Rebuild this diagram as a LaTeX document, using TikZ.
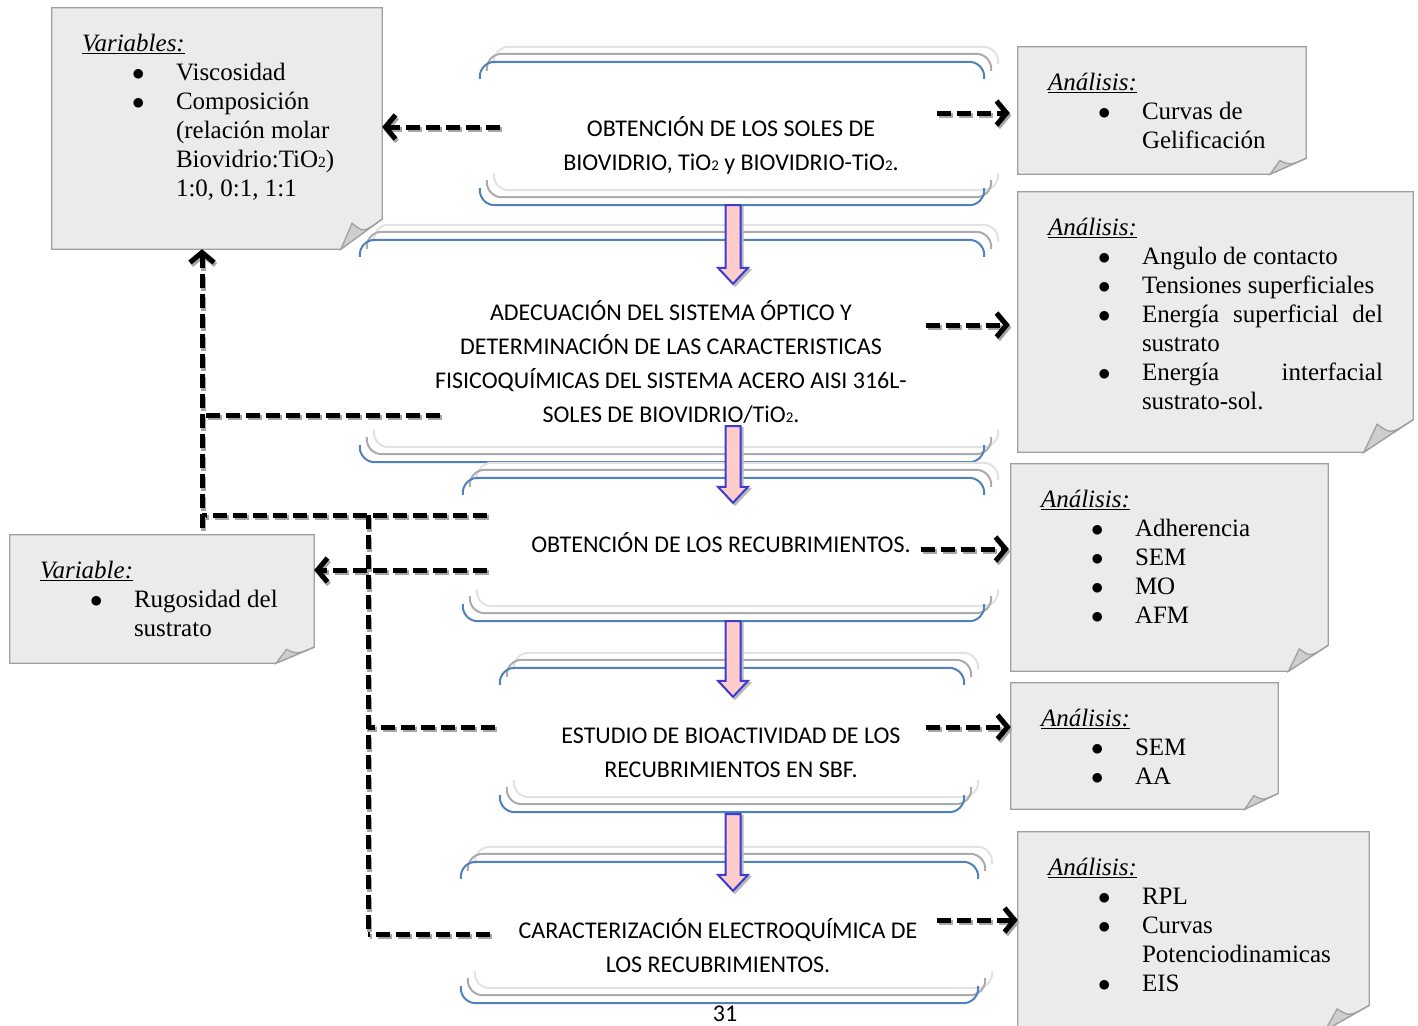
\documentclass[tikz,border=0pt]{standalone}
\usepackage{fontspec}
\setmainfont{Liberation Serif}
\newfontfamily\carlito{Carlito}
\usetikzlibrary{arrows.meta,calc,backgrounds}
\definecolor{azulpaso}{HTML}{4F81BD}
\definecolor{grismedio}{HTML}{ABABAB}
\definecolor{grisclaro}{HTML}{E2E2E2}
\definecolor{fondonota}{HTML}{EBEBEB}
\definecolor{bordenota}{HTML}{A0A0A0}
\definecolor{pliegue}{HTML}{CECECE}
\definecolor{rosa}{HTML}{FFCCCC}
\definecolor{bordeflecha}{HTML}{3C3CD2}
% subindice pequeno en la linea base
\newcommand\ddos{\scalebox{0.62}{2}}
% vineta y linea de continuacion
\newcommand\vi[1]{\hspace*{50pt}\makebox[44pt][l]{$\bullet$}#1}
\newcommand\vc[1]{\hspace*{94pt}#1}
\tikzset{
  nota/.style={inner sep=0pt},
  notatexto/.style={anchor=north west, inner sep=0pt, align=left, font=\fontsize{25}{29}\selectfont},
  paso/.style={inner sep=0pt},
  pasotexto/.style={align=center, inner sep=0pt, font=\carlito\fontsize{24}{34}\selectfont},
  rayas/.style={line width=5pt, dash pattern=on 14pt off 6pt},
  punta/.style={-{Straight Barb[length=10pt,width=24pt]}},
  sombraflecha/.style={fill=gray!55, draw=gray!55, line width=2pt, transform canvas={shift={(2pt,-2pt)}}},
  flechagruesa/.style={fill=rosa, draw=bordeflecha, line width=2pt, line join=miter},
}
% hoja gris con esquina doblada (detras del texto)
\newcommand\nota[1]{%
  \begin{pgfonlayer}{background}
  \path[draw=bordenota, line width=1.3pt, fill=fondonota]
    let \p1=(#1.north east), \p2=(#1.south west), \n1={(\x1-\x2)/8}, \n2={(\y1-\y2)/8} in
    (\x2,\y1) -- (\x1,\y1) -- ({\x1},{\y2+\n2}) -- ({\x1-\n1},{\y2}) -- (\x2,\y2) -- cycle;
  \path[draw=bordenota, line width=1.3pt, fill=pliegue]
    let \p1=(#1.north east), \p2=(#1.south west), \n1={(\x1-\x2)/8}, \n2={(\y1-\y2)/8} in
    ({\x1},{\y2+\n2}) .. controls ({\x1-0.45*\n1},{\y2+0.55*\n2}) .. ({\x1-0.73*\n1},{\y2+0.86*\n2})
    -- ({\x1-\n1},{\y2}) -- cycle;
  \end{pgfonlayer}}
% pergamino: dos llaves azules con copias grises desplazadas
\newcommand\pergamino[1]{%
  \foreach \dx/\dy/\col in {14/-15/grisclaro, 7/-8/grismedio, 0/0/azulpaso}{
    \draw[\col, line width=2pt, rounded corners=15pt]
      ($(#1.north west)+(\dx,\dy+17)$) -- ($(#1.north west)+(\dx,\dy)$)
      -- ($(#1.north east)+(\dx,\dy)$) -- ($(#1.north east)+(\dx,\dy+17)$);
    \draw[\col, line width=2pt, rounded corners=15pt]
      ($(#1.south west)+(\dx,\dy-17)$) -- ($(#1.south west)+(\dx,\dy)$)
      -- ($(#1.south east)+(\dx,\dy)$) -- ($(#1.south east)+(\dx,\dy-17)$);
  }}
% linea discontinua gruesa con sombra
\newcommand\rayada[2][]{%
  \draw[rayas, gray!70, #1, transform canvas={shift={(1.5pt,-2.5pt)}}] #2;
  \draw[rayas, black, #1] #2;}
% flecha rosa hacia abajo
\newcommand\bajada[2]{%
  \draw[sombraflecha] ($(#1)+(-7.5,0)$) -- ($(#2)+(-7.5,-16)$) -- ($(#2)+(-15,-16)$) -- (#2)
    -- ($(#2)+(15,-16)$) -- ($(#2)+(7.5,-16)$) -- ($(#1)+(7.5,0)$) -- cycle;
  \draw[flechagruesa] ($(#1)+(-7.5,0)$) -- ($(#2)+(-7.5,-16)$) -- ($(#2)+(-15,-16)$) -- (#2)
    -- ($(#2)+(15,-16)$) -- ($(#2)+(7.5,-16)$) -- ($(#1)+(7.5,0)$) -- cycle;}
\begin{document}
\begin{tikzpicture}[x=1pt, y=-1pt]
\useasboundingbox (0,0) rectangle (1418,1025);
% Hojas de variables y analisis
\node[nota, minimum width=330pt, minimum height=241pt] (v1) at (217,128.5) {};
\node[nota, minimum width=304pt, minimum height=128pt] (vr) at (162,599) {};
\node[nota, minimum width=288pt, minimum height=127pt] (a1) at (1162,110.5) {};
\node[nota, minimum width=395pt, minimum height=260pt] (a2) at (1215.5,322) {};
\node[nota, minimum width=317pt, minimum height=207pt] (a3) at (1169.5,567.5) {};
\node[nota, minimum width=267pt, minimum height=126pt] (a4) at (1144.5,746) {};
\node[nota, minimum width=351pt, minimum height=198pt] (a5) at (1193.5,931) {};
\foreach \h in {v1,vr,a1,a2,a3,a4,a5} \nota{\h};
\node[notatexto] (v1t) at ($(v1.north west)+(30,26)$) {\underline{\textit{Variables:}}\\
  \vi{Viscosidad}\\ \vi{Composición}\\ \vc{(relación molar}\\ \vc{Biovidrio:TiO\ddos)}\\ \vc{1:0, 0:1, 1:1}};
\node[notatexto] (vrt) at ($(vr.north west)+(30,26)$) {\underline{\textit{Variable:}}\\
  \vi{Rugosidad del}\\ \vc{sustrato}};
\node[notatexto] (a1t) at ($(a1.north west)+(30,26)$) {\underline{\textit{Análisis:}}\\
  \vi{Curvas de}\\ \vc{Gelificación}};
\node[notatexto] (a2t) at ($(a2.north west)+(30,26)$) {\underline{\textit{Análisis:}}\\
  \vi{Angulo de contacto}\\ \vi{Tensiones superficiales}\\
  \vi{\makebox[241pt][s]{Energía\hfill superficial\hfill del}}\\ \vc{sustrato}\\
  \vi{\makebox[241pt][s]{Energía\hfill interfacial}}\\ \vc{sustrato-sol.}};
\node[notatexto] (a3t) at ($(a3.north west)+(30,26)$) {\underline{\textit{Análisis:}}\\
  \vi{Adherencia}\\ \vi{SEM}\\ \vi{MO}\\ \vi{AFM}};
\node[notatexto] (a4t) at ($(a4.north west)+(30,26)$) {\underline{\textit{Análisis:}}\\
  \vi{SEM}\\ \vi{AA}};
\node[notatexto] (a5t) at ($(a5.north west)+(30,26)$) {\underline{\textit{Análisis:}}\\
  \vi{RPL}\\ \vi{Curvas}\\ \vc{Potenciodinamicas}\\ \vi{EIS}};
% Etapas del proceso
\node[paso, minimum width=504pt, minimum height=143pt] (s1) at (732,133.5) {};
\node[paso, minimum width=624pt, minimum height=222pt] (s2) at (672,351) {};
\node[paso, minimum width=521pt, minimum height=143pt] (s3) at (723.5,549.5) {};
\node[paso, minimum width=464pt, minimum height=144pt] (s4) at (732,740) {};
\node[paso, minimum width=517pt, minimum height=141pt] (s5) at (719.5,932.5) {};
\foreach \s in {s1,s2,s3,s4,s5} \pergamino{\s};
\node[pasotexto] (t1) at (731,145) {OBTENCIÓN DE LOS SOLES DE\\ BIOVIDRIO, TiO\ddos{} y BIOVIDRIO-TiO\ddos.};
\node[pasotexto] (t2) at (671,362) {ADECUACIÓN DEL SISTEMA ÓPTICO Y\\ DETERMINACIÓN DE LAS CARACTERISTICAS\\
  FISICOQUÍMICAS DEL SISTEMA ACERO AISI 316L-\\ SOLES DE BIOVIDRIO/TiO\ddos.};
\node[pasotexto] (t3) at (721,543) {OBTENCIÓN DE LOS RECUBRIMIENTOS.};
\node[pasotexto] (t4) at (731,753) {ESTUDIO DE BIOACTIVIDAD DE LOS\\ RECUBRIMIENTOS EN SBF.};
\node[pasotexto] (t5) at (718,946) {CARACTERIZACIÓN ELECTROQUÍMICA DE\\ LOS RECUBRIMIENTOS.};
\node[pasotexto] (pag) at (725,1014) {31};
% Flechas rosas entre etapas
\coordinate (eje) at (733,0);
\bajada{s1.south -| eje}{$(s2.north -| eje)+(0,44)$}
\bajada{$(s2.south -| eje)+(0,-36)$}{$(s3.north -| eje)+(0,25)$}
\bajada{s3.south -| eje}{$(s4.north -| eje)+(0,29)$}
\bajada{$(s4.south -| eje)+(0,2)$}{$(s5.north -| eje)+(0,29)$}
% Salidas hacia los analisis
\coordinate (d1) at (937,113);
\coordinate (d2) at (926,325);
\coordinate (d3) at (921,549);
\coordinate (d4) at (926,727);
\coordinate (d5) at (937,920);
\rayada[punta]{(d1) -- ([xshift=-8pt]d1 -| a1.west)}
\rayada[punta]{(d2) -- ([xshift=-8pt]d2 -| a2.west)}
\rayada[punta]{(d3) -- ([xshift=-2pt]d3 -| a3.west)}
\rayada[punta]{(d4) -- (d4 -| a4.west)}
\rayada[punta]{(d5) -- (d5 -| a5.west)}
% Retornos hacia las variables
\coordinate (i1) at (500,127);
\coordinate (i2) at (440,415);
\coordinate (i3) at (487,515);
\coordinate (i3b) at (487,570);
\coordinate (i4) at (495,727);
\coordinate (i5) at (490,934);
\coordinate (colector) at (202,528);
\coordinate (troncal) at (368,515);
\rayada[punta]{(i1) -- (i1 -| v1.east)}
\rayada{(i2) -- (i2 -| colector)}
\rayada{(i3) -- (i3 -| colector)}
\rayada[punta]{(colector) -- (colector |- v1.south)}
\rayada{(troncal) -- (troncal |- i5)}
\rayada{(i4) -- (i4 -| troncal)}
\rayada{(i5) -- (i5 -| troncal)}
\rayada[punta]{(i3b) -- (i3b -| vr.east)}
\end{tikzpicture}
\end{document}
